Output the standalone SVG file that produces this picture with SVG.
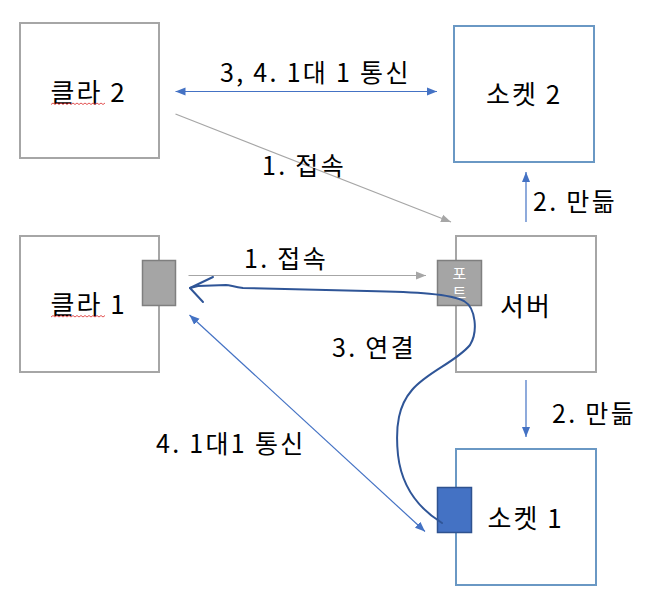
<svg xmlns="http://www.w3.org/2000/svg" width="648" height="601" viewBox="0 0 648 601">
<style>
.box{fill:#fff;stroke:#a6a6a6;stroke-width:2}
.sbox{fill:#fff;stroke:#6a98c4;stroke-width:2}
.t{font-family:"Noto Sans CJK KR","Malgun Gothic",sans-serif;font-size:26px;font-weight:400;letter-spacing:2px;fill:#000}
.lbl{font-family:"Noto Sans CJK KR","Malgun Gothic",sans-serif;font-size:25px;font-weight:400;letter-spacing:2.3px;fill:#000}
.blue{stroke:#4472c4;stroke-width:1.2;fill:none}
.gray{stroke:#a6a6a6;stroke-width:1.2;fill:none}
.squig{stroke:#e04040;stroke-width:0.9;fill:none}
.pt{font-family:"Noto Sans CJK KR","Malgun Gothic",sans-serif;font-size:15px;fill:#fff}
</style>
<defs>
<marker id="ab" markerUnits="userSpaceOnUse" markerWidth="10" markerHeight="10" viewBox="0 0 10 10" refX="10" refY="5" orient="auto-start-reverse">
<path d="M0,1 L10,5 L0,9 z" fill="#4472c4"/>
</marker>
<marker id="ag" markerUnits="userSpaceOnUse" markerWidth="10" markerHeight="10" viewBox="0 0 10 10" refX="10" refY="5" orient="auto">
<path d="M0,1 L10,5 L0,9 z" fill="#a6a6a6"/>
</marker>
</defs>

<g id="client2">
<rect class="box" x="20" y="23" width="139" height="135"/>
<text class="t" x="50.5" y="102">클라 2</text>
<path class="squig" d="M51,104.5 l2,-1.5 l2,1.5 l2,-1.5 l2,1.5 l2,-1.5 l2,1.5 l2,-1.5 l2,1.5 l2,-1.5 l2,1.5 l2,-1.5 l2,1.5 l2,-1.5 l2,1.5 l2,-1.5 l2,1.5 l2,-1.5 l2,1.5 l2,-1.5 l2,1.5 l2,-1.5 l2,1.5 l2,-1.5 l2,1.5 l2,-1.5 l2,1.5 l2,-1.5"/>
</g>

<g id="socket2">
<rect class="sbox" x="454" y="26" width="140" height="136"/>
<text class="t" x="486" y="104">소켓 2</text>
</g>

<g id="client1">
<rect class="box" x="20" y="236" width="139" height="136"/>
<text class="t" x="50.5" y="314">클라 1</text>
<path class="squig" d="M51,317 l2,-1.5 l2,1.5 l2,-1.5 l2,1.5 l2,-1.5 l2,1.5 l2,-1.5 l2,1.5 l2,-1.5 l2,1.5 l2,-1.5 l2,1.5 l2,-1.5 l2,1.5 l2,-1.5 l2,1.5 l2,-1.5 l2,1.5 l2,-1.5 l2,1.5 l2,-1.5 l2,1.5 l2,-1.5 l2,1.5 l2,-1.5 l2,1.5 l2,-1.5"/>
<rect x="142.5" y="260.5" width="33" height="45" fill="#a5a5a5" stroke="#7f7f7f" stroke-width="1.5"/>
</g>

<g id="server">
<rect class="box" x="456" y="236" width="140" height="136"/>
<text class="t" x="500" y="316">서버</text>
<rect x="437.5" y="260.5" width="44" height="45" fill="#a5a5a5" stroke="#7f7f7f" stroke-width="1.5"/>
<text class="pt" x="459.5" y="279" text-anchor="middle">포</text>
<text class="pt" x="459.5" y="298" text-anchor="middle">트</text>
</g>

<g id="socket1">
<rect class="sbox" x="456" y="449" width="140" height="136"/>
<text class="t" x="487.5" y="528">소켓 1</text>
<rect x="437.5" y="487.5" width="34" height="45" fill="#4472c4" stroke="#2f528f" stroke-width="1.5"/>
</g>

<g id="connectors">
<line class="blue" x1="175.5" y1="91.5" x2="437" y2="91.5" marker-start="url(#ab)" marker-end="url(#ab)"/>
<line class="gray" x1="175.5" y1="114" x2="451" y2="222" marker-end="url(#ag)"/>
<line class="blue" x1="526" y1="222" x2="526" y2="172" marker-end="url(#ab)"/>
<line class="gray" x1="188.5" y1="275.5" x2="426" y2="275.5" marker-end="url(#ag)"/>
<line class="blue" x1="526" y1="380" x2="526" y2="437" marker-end="url(#ab)"/>
<line class="blue" x1="189.5" y1="315" x2="425" y2="531.5" marker-start="url(#ab)" marker-end="url(#ab)"/>
<path d="M442,523 C421,510 402,490 398,455 C395,425 399,405 412,390 C427,372 456,362 470,345 C478,332 476,308 464,301 C451,294 417,292 367,291 L243,288 C234,287 230,285 226,285 L198,286 L190,288" fill="none" stroke="#2f5597" stroke-width="2" stroke-linecap="round"/>
<path d="M213,277 L190,288 L203,302" fill="none" stroke="#2f5597" stroke-width="2" stroke-linecap="round" stroke-linejoin="round"/>
</g>

<g id="labels">
<text class="lbl" x="220" y="82">3, 4. 1대 1 통신</text>
<text class="lbl" x="262" y="175">1. 접속</text>
<text class="lbl" x="533" y="211">2. 만듦</text>
<text class="lbl" x="244" y="268">1. 접속</text>
<text class="lbl" x="332" y="357">3. 연결</text>
<text class="lbl" x="552" y="423">2. 만듦</text>
<text class="lbl" x="156" y="453">4. 1대1 통신</text>
</g>
</svg>
